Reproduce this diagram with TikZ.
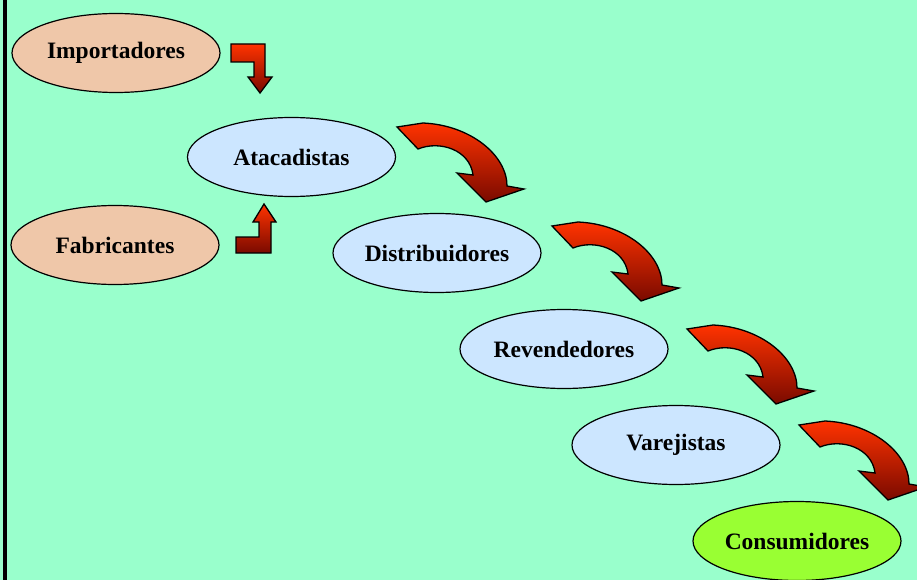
\documentclass[tikz,border=0pt]{standalone}
\usepackage{fontspec}
\setmainfont{Liberation Serif}
\usetikzlibrary{shapes.geometric}
\definecolor{bg}{HTML}{99FFCC}
\definecolor{peach}{HTML}{EFC7A9}
\definecolor{lblue}{HTML}{CCE6FF}
\definecolor{lime}{HTML}{99FF33}
\definecolor{redtop}{HTML}{FF3300}
\definecolor{redmid}{HTML}{E02800}
\definecolor{redbot}{HTML}{7A0A00}
\tikzset{
  ell/.style={ellipse, draw=black, line width=1.2pt, minimum width=208pt, minimum height=79pt,
    inner sep=0pt, font=\fontsize{23.5}{28}\selectfont\bfseries},
  arrowshade/.style={top color=redtop, middle color=redmid, bottom color=redbot, draw=black, line width=1.3pt, line join=miter},
  curvarr/.pic={
    \shade[arrowshade] (0,0) -- (26,-4) .. controls (73,-2) and (110,28) .. (110,59)
      -- (127,62) -- (89,75) -- (60,46) -- (76,48)
      .. controls (73,23) and (43,13) .. (21,22) -- cycle;
  }
}
\begin{document}
\begin{tikzpicture}[x=1pt,y=-1pt]
\useasboundingbox (0,0) rectangle (917,580);
\fill[bg] (0,0) rectangle (917,580);
\clip (0,0) rectangle (917,580);
\fill[black] (3,0) rectangle (7,580);

\node[ell, fill=peach] (imp) at (116,53) {Importadores};
\node[ell, fill=peach] (fab) at (115,245) {Fabricantes};
\node[ell, fill=lblue] (ata) at (291.5,157) {Atacadistas};
\node[ell, fill=lblue] (dis) at (437,253) {Distribuidores};
\node[ell, fill=lblue] (rev) at (564,349) {Revendedores};
\node[ell, fill=lblue] (var) at (676,445) {Varejistas};
\node[ell, fill=lime] (con) at (797,541) {Consumidores};

% L-shaped arrows
\shade[arrowshade] (231,44) -- (265,44) -- (265,77) -- (272,77) -- (260,93) -- (248,77)
  -- (254,77) -- (254,62) -- (231,62) -- cycle;
\shade[arrowshade] (264,204) -- (276,222) -- (271,222) -- (271,253) -- (236,253) -- (236,237)
  -- (259,237) -- (259,222) -- (253,222) -- cycle;

% curved arrows
\pic at (397,127) {curvarr};
\pic at (552,226) {curvarr};
\pic at (687,329) {curvarr};
\pic at (799,425) {curvarr};
\end{tikzpicture}
\end{document}
